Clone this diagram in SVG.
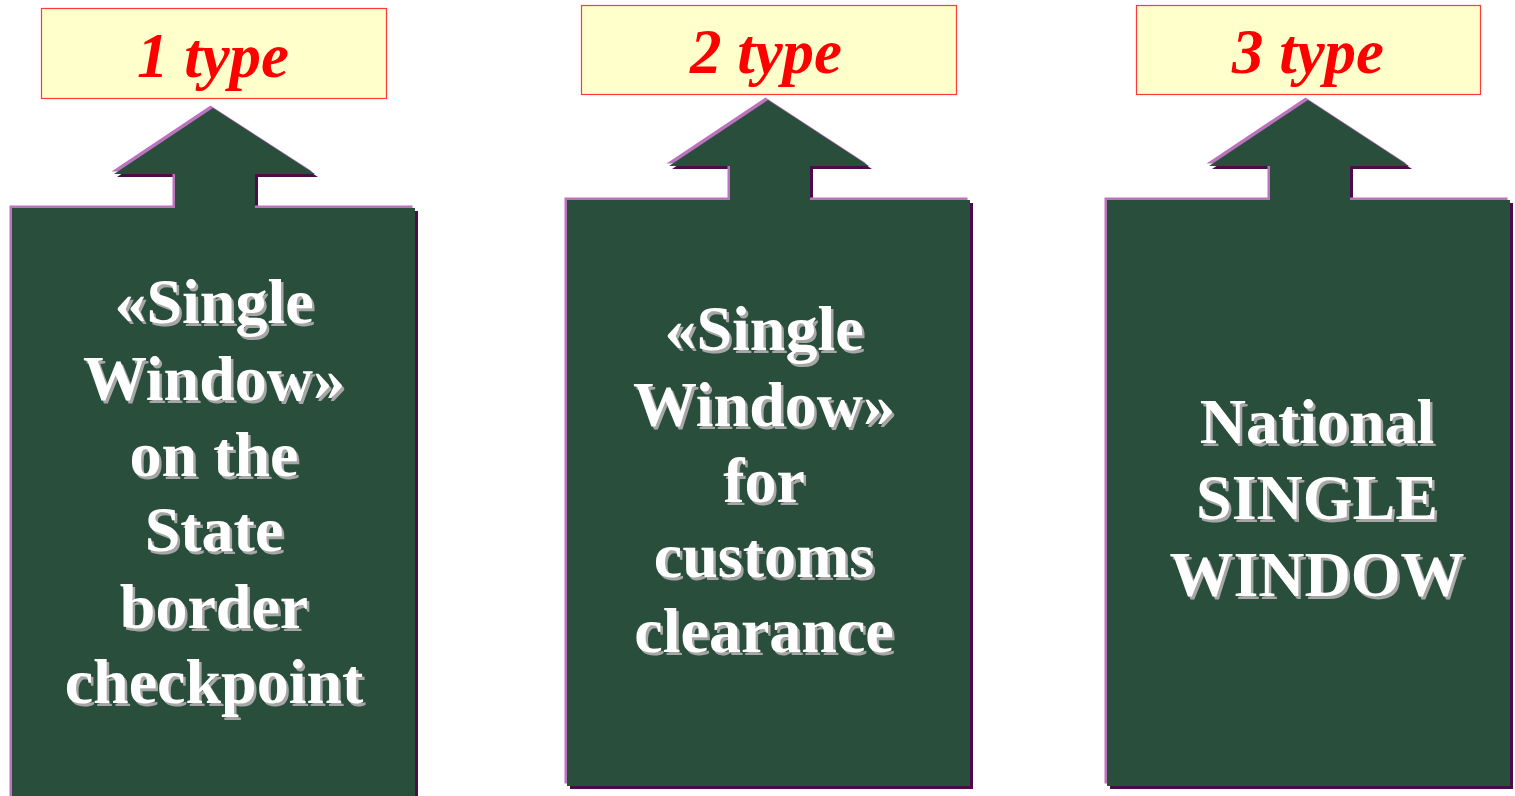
<svg xmlns="http://www.w3.org/2000/svg" xmlns:xlink="http://www.w3.org/1999/xlink" width="1515" height="796" viewBox="0 0 1515 796">
<style>
.lbl{fill:#ffffcc;stroke:#ff3a3a;stroke-width:1.2}
.lt{font-family:"Liberation Serif","Times New Roman",serif;font-weight:bold;font-style:italic;font-size:63px;fill:#ff0000;text-anchor:middle}
.bt{font-family:"Liberation Serif","Times New Roman",serif;font-weight:bold;font-size:64px;text-anchor:middle}
.main{fill:#294e3c}
.hi{fill:#bc72bc}
.sh{fill:#4a0c4a}
</style>
<defs>
<polygon id="p1" points="213,108 114,174 175,174 175,208 12,208 12,800 415,800 415,208 255,208 255,174 315,174"/>
<polygon id="p2" points="768,100 669,166 730,166 730,200 567,200 567,786 970,786 970,200 810,200 810,166 869,166"/>
<polygon id="p3" points="1308,100 1209,166 1270,166 1270,200 1107,200 1107,786 1510,786 1510,200 1350,200 1350,166 1409,166"/>
<g id="t1">
<text class="bt" x="214" y="323">«Single</text>
<text class="bt" x="214" y="400">Window»</text>
<text class="bt" x="214" y="476">on the</text>
<text class="bt" x="214" y="551">State</text>
<text class="bt" x="214" y="628">border</text>
<text class="bt" x="214" y="703">checkpoint</text>
</g>
<g id="t2">
<text class="bt" x="764" y="350">«Single</text>
<text class="bt" x="764" y="426">Window»</text>
<text class="bt" x="764" y="502">for</text>
<text class="bt" x="764" y="577">customs</text>
<text class="bt" x="764" y="652">clearance</text>
</g>
<g id="t3">
<text class="bt" x="1317" y="443">National</text>
<text class="bt" x="1317" y="519">SINGLE</text>
<text class="bt" x="1317" y="596">WINDOW</text>
</g>
</defs>
<rect width="1515" height="796" fill="#ffffff"/>
<g id="connectors"/>
<g id="node-type1-label">
<rect class="lbl" x="41.5" y="8.5" width="345" height="90"/>
<text class="lt" x="213" y="77">1 type</text>
</g>
<g id="node-type2-label">
<rect class="lbl" x="581.5" y="5.5" width="375" height="89"/>
<text class="lt" x="766" y="73">2 type</text>
</g>
<g id="node-type3-label">
<rect class="lbl" x="1136.5" y="5.5" width="344" height="89"/>
<text class="lt" x="1308" y="73">3 type</text>
</g>
<g id="node-type1">
<use xlink:href="#p1" class="sh" transform="translate(3,3)"/>
<use xlink:href="#p1" class="hi" transform="translate(-2.5,-2.5)"/>
<use xlink:href="#p1" class="main"/>
<use xlink:href="#t1" fill="#a6a6a6" transform="translate(2.5,2.5)"/>
<use xlink:href="#t1" fill="#ffffff"/>
</g>
<g id="node-type2">
<use xlink:href="#p2" class="sh" transform="translate(3,3)"/>
<use xlink:href="#p2" class="hi" transform="translate(-2.5,-2.5)"/>
<use xlink:href="#p2" class="main"/>
<use xlink:href="#t2" fill="#a6a6a6" transform="translate(2.5,2.5)"/>
<use xlink:href="#t2" fill="#ffffff"/>
</g>
<g id="node-type3">
<use xlink:href="#p3" class="sh" transform="translate(3,3)"/>
<use xlink:href="#p3" class="hi" transform="translate(-2.5,-2.5)"/>
<use xlink:href="#p3" class="main"/>
<use xlink:href="#t3" fill="#a6a6a6" transform="translate(2.5,2.5)"/>
<use xlink:href="#t3" fill="#ffffff"/>
</g>
</svg>
